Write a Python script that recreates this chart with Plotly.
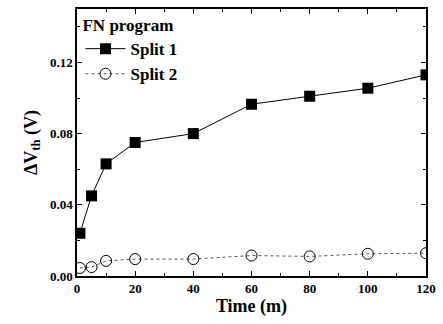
import plotly.graph_objects as go

time_m = [1, 5, 10, 20, 40, 60, 80, 100, 120]
split1 = [0.024, 0.045, 0.063, 0.075, 0.080, 0.0965, 0.101, 0.1055, 0.113]
split2 = [0.0045, 0.005, 0.0085, 0.0095, 0.0095, 0.0115, 0.011, 0.0125, 0.0128]
x_ticks = [0, 20, 40, 60, 80, 100, 120]
y_ticks = [0.00, 0.04, 0.08, 0.12]
y_tick_labels = ["0.00", "0.04", "0.08", "0.12"]

fig = go.Figure()
fig.add_trace(go.Scatter(
    x=time_m, y=split1, name="Split 1", mode="lines+markers",
    line=dict(color="black", width=1),
    marker=dict(symbol="square", size=11, color="black"),
))
fig.add_trace(go.Scatter(
    x=time_m, y=split2, name="Split 2", mode="lines+markers",
    line=dict(color="#555", width=1, dash="dot"),
    marker=dict(symbol="circle-open", size=11, color="black", line=dict(width=1)),
))

font = "Liberation Serif"
axis_common = dict(
    showline=True, linecolor="black", linewidth=1.5, mirror="ticks",
    ticks="inside", ticklen=5, tickcolor="black", showgrid=False, zeroline=False,
    tickfont=dict(family=font, size=13, color="black", weight="bold"),
)
fig.update_xaxes(
    range=[0, 120], tickvals=x_ticks,
    minor=dict(ticks="inside", ticklen=3, dtick=10, tickcolor="black"),
    title=dict(text="<b>Time (m)</b>", font=dict(family=font, size=18, color="black"), standoff=4),
    **axis_common,
)
fig.update_yaxes(
    range=[0, 0.15], tickvals=y_ticks, ticktext=y_tick_labels,
    minor=dict(ticks="inside", ticklen=3, dtick=0.02, tickcolor="black"),
    title=dict(text="<b>ΔV<sub>th</sub> (V)</b>", font=dict(family=font, size=18, color="black"), standoff=8),
    **axis_common,
)
fig.update_layout(
    width=443, height=324,
    margin=dict(l=77, r=11, t=7, b=48),
    paper_bgcolor="white", plot_bgcolor="white",
    showlegend=True,
    legend=dict(
        x=0.01, y=1.0, xanchor="left", yanchor="top",
        bgcolor="rgba(0,0,0,0)",
        title=dict(text="<b>FN program</b>", font=dict(family=font, size=17, color="black")),
        font=dict(family=font, size=17, color="black", weight="bold"),
        itemwidth=40, tracegroupgap=0,
    ),
)
fig.write_html("out.html", config={"displayModeBar": False},
               post_script="document.body.style.margin='0';")
